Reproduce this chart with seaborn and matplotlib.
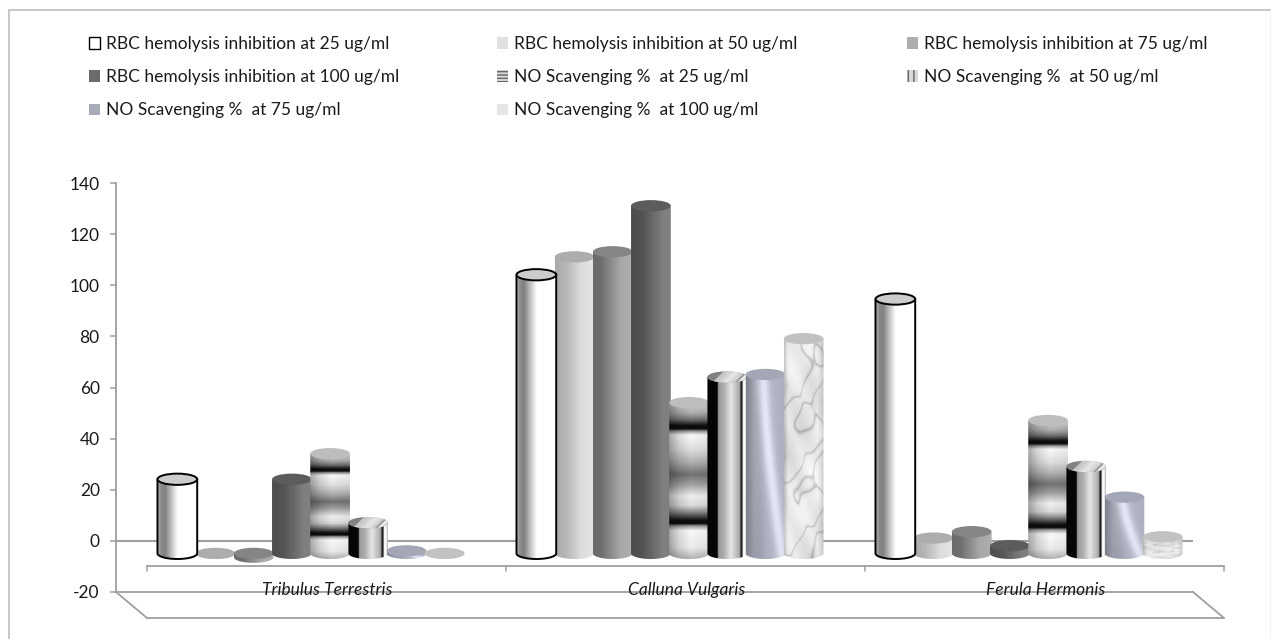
import numpy as np
import pandas as pd
import matplotlib
matplotlib.use("Agg")
import matplotlib.pyplot as plt
import matplotlib.transforms as mtransforms
from matplotlib.patches import Ellipse, PathPatch, Patch
from matplotlib.path import Path
import seaborn as sns

plants = ["Tribulus Terrestris", "Calluna Vulgaris", "Ferula Hermonis"]
series_names = [
    "RBC hemolysis inhibition at 25 ug/ml",
    "RBC hemolysis inhibition at 50 ug/ml",
    "RBC hemolysis inhibition at 75 ug/ml",
    "RBC hemolysis inhibition at 100 ug/ml",
    "NO Scavenging %  at 25 ug/ml",
    "NO Scavenging %  at 50 ug/ml",
    "NO Scavenging %  at 75 ug/ml",
    "NO Scavenging %  at 100 ug/ml",
]
rbc_25 = [29, 109, 99.5]
rbc_50 = [0, 116, 6]
rbc_75 = [-1.5, 118, 8.5]
rbc_100 = [29, 136, 3]
no_25 = [39, 59, 52]
no_50 = [12, 69, 34]
no_75 = [1, 70, 22]
no_100 = [0, 84, 6.5]
all_values = [rbc_25, rbc_50, rbc_75, rbc_100, no_25, no_50, no_75, no_100]
y_ticks = [-20, 0, 20, 40, 60, 80, 100, 120, 140]

top_colors = ["0.8", "0.68", "0.52", "0.36", "0.74", "0.7", "#a4a8b6", "0.76"]
swatches = ["white", "0.88", "0.68", "0.42", "0.85", "0.85", "#a8acb8", "0.9"]
hatches = [None, None, None, None, "-----", "|||", None, None]

FONT = "Lato"
GRAY = "0.62"
DPI = 100
W, H = 1271, 639


def gray_rgb(g):
    return np.dstack([g, g, g])


def stripes(u):
    return np.interp(u, [0, .26, .28, .42, .6, .82, .85, .89, .9, .96, 1],
                     [.02, .02, .6, .68, .9, .66, .15, .15, .97, .97, .7])


def texture(i):
    """Surface picture of the i-th series, u runs across and v down the cylinder."""
    u, v = np.meshgrid(np.linspace(0, 1, 120), np.linspace(0, 1, 400))
    if i == 0:
        return gray_rgb(np.interp(u, [0, .1, .2, .35, .52, 1], [.72, .55, .5, .74, 1, 1]))
    if i == 1:
        return gray_rgb(np.interp(u, [0, .3, .65, 1], [.66, .72, .86, .9]))
    if i == 2:
        return gray_rgb(np.interp(u, [0, .2, .7, 1], [.42, .43, .66, .68]))
    if i == 3:
        return gray_rgb(np.interp(u, [0, .3, .8, 1], [.3, .33, .5, .5]))
    if i == 4:
        band = np.interp(v, [0, .07, .11, .15, .17, .185, .21, .3, .38, .46, .52, .6, .66, .7, .755, .775, .79, .82, .93, 1],
                         [.85, .68, .45, .05, .05, .6, .98, .88, .7, .45, .62, .94, .86, .55, .05, .05, .6, .98, .92, .7])
        return gray_rgb(band * np.interp(u, [0, .25, .55, 1], [.68, .88, 1, .94]))
    if i == 5:
        return gray_rgb(stripes(u))
    if i == 6:
        streak = np.exp(-((u - .42 - .5 * v ** 1.4) / .15) ** 2)
        lower = np.clip(1.6 * v - .7, 0, 1) * np.exp(-((u - .35) / .2) ** 2) * .5
        edge = np.interp(u, [0, .2, .5, 1], [.7, .9, 1, .97])
        g = .7 + .2 * streak - .12 * lower
        rgb = np.dstack([g, g + .015, g + .07])
        return np.clip(rgb * edge[..., None], 0, 1)
    field = (np.sin(4 * u + 9 * v + 1.5 * np.sin(19 * v + 3 * u))
             + .6 * np.sin(9 * u - 7 * v + np.sin(23 * v - 6 * u)))
    vein = np.exp(-np.abs(field) / .12)
    cloud = .03 * np.sin(9 * v + 3 * u) + .025 * np.sin(23 * v - 9 * u)
    g = .92 + cloud - .24 * vein
    g = g * np.interp(u, [0, .1, .85, 1], [.8, .98, 1, .86])
    return np.clip(gray_rgb(g), 0, 1)


sns.set_style("white")
plt.rcParams["axes.unicode_minus"] = False
plt.rcParams["hatch.linewidth"] = 1.0
fig = plt.figure(figsize=(W / DPI, H / DPI), dpi=DPI)
ax = fig.add_axes([116 / W, 1 - 592 / H, (1193 - 116) / W, (592 - 183) / H])

df = pd.DataFrame({
    "plant": np.tile(plants, len(series_names)),
    "series": np.repeat(series_names, len(plants)),
    "value": np.concatenate(all_values),
})
sns.barplot(data=df, x="plant", y="value", hue="series", order=plants, hue_order=series_names,
            width=0.851, gap=0, dodge=True, legend=False, color="0.7", ax=ax, errorbar=None)
ax.set_xlim(-0.5, 2.5)
ax.set_ylim(-20, 140)


def shifted(dx, dy):
    """transData moved by dx, dy pixels, dy counted downwards as in the picture."""
    return ax.transData + mtransforms.ScaledTranslation(dx / DPI, -dy / DPI, fig.dpi_scale_trans)


# frame of the picture
for xs, ys, col in [([8.5, 8.5], [10, H], "0.72"), ([8.5, W], [10, 10], "0.72"), ([W - .5, W - .5], [10, H], "0.93")]:
    fig.add_artist(plt.Line2D(np.array(xs) / W, 1 - np.array(ys) / H, color=col, lw=1.1))

# back wall and floor
ax.set_yticks(y_ticks)
ax.set_xticks([])
ax.set_xlabel("")
ax.set_ylabel("")
for side in ["top", "right"]:
    ax.spines[side].set_visible(False)
for side in ["left", "bottom"]:
    ax.spines[side].set_color(GRAY)
    ax.spines[side].set_linewidth(1.3)
ax.tick_params(axis="y", length=4.3, width=1.1, color=GRAY, pad=7.4, left=True)
for label in ax.get_yticklabels():
    label.set_fontfamily(FONT)
    label.set_fontsize(12.5)
    label.set_color("0.1")
ax.axhline(0, color=GRAY, lw=1.5, zorder=0.5)

corners_x = [-0.5, 2.5]
ax.plot(corners_x, [-20, -20], color=GRAY, lw=1.3, transform=shifted(31, 26), clip_on=False)
left = ax.transData.transform((-0.5, -20))
right = ax.transData.transform((2.5, -20))
for start in [left, right]:
    fig.add_artist(plt.Line2D([start[0] / W, (start[0] + 31) / W],
                              [start[1] / H, (start[1] - 26) / H], color=GRAY, lw=1.3))

# category axis in front of the bars
ax.plot(corners_x, [0, 0], color=GRAY, lw=1.3, transform=shifted(31, 25), clip_on=False, zorder=1)
for x in [-0.5, 0.5, 1.5, 2.5]:
    ax.plot([x, x], [0, -2], color=GRAY, lw=1.1, transform=shifted(31, 25), clip_on=False, zorder=1)
for x, name in enumerate(plants):
    ax.text(x, 0, name, transform=shifted(32, 49), ha="center", va="center", style="italic",
            family=FONT, fontsize=12.5, color="0.1", clip_on=False, zorder=6)

# cylinders, painted over the bars seaborn placed
bar_trans = shifted(15.5, 12.5)
cap = 4.4
for i, container in enumerate(ax.containers):
    z = 10 if i == 0 else 3 + i * 0.1
    pic = texture(i)
    for bar in container:
        x0 = bar.get_x() - bar.get_width() * 0.02
        x1 = bar.get_x() + bar.get_width() * 1.02
        y_val = bar.get_y() + bar.get_height()
        top = max(y_val, 0)
        base = min(y_val, 0)
        bar.set_transform(bar_trans)
        bar.set_zorder(z - 0.05)
        bar.set_edgecolor("none")
        bar.set_alpha(0)

        t = np.linspace(0, np.pi, 40)
        xs = (x0 + x1) / 2 + (x1 - x0) / 2 * np.cos(t)
        ys = base - cap / 2 * np.sin(t)
        verts = np.column_stack([np.r_[x0, x1, xs, x0], np.r_[top, top, ys, top]])
        body = PathPatch(Path(verts, closed=False), transform=bar_trans, zorder=z + 0.01,
                         facecolor="none", clip_on=False,
                         edgecolor="black" if i == 0 else "none", lw=1.4 if i == 0 else 0)
        ax.add_patch(body)
        im = ax.imshow(pic, extent=[x0, x1, base - cap / 2, top], aspect="auto", zorder=z,
                       interpolation="bilinear", transform=bar_trans, origin="upper")
        im.set_clip_path(body)

        lid = Ellipse(((x0 + x1) / 2, top), x1 - x0, cap, transform=bar_trans, zorder=z + 0.03,
                      facecolor=top_colors[i], clip_on=False,
                      edgecolor="black" if i == 0 else "none", lw=1.4 if i == 0 else 0)
        ax.add_patch(lid)
        if i == 5:
            lu, lv = np.meshgrid(np.linspace(0, 1, 120), np.linspace(0, 1, 30))
            lid_pic = gray_rgb(.5 + .45 * stripes(lu + .3 * (lv - .5)))
            lid_im = ax.imshow(lid_pic, extent=[x0, x1, top - cap / 2, top + cap / 2], aspect="auto",
                               zorder=z + 0.04, transform=bar_trans, interpolation="bilinear")
            lid_im.set_clip_path(lid)
ax.set_xlim(-0.5, 2.5)
ax.set_ylim(-20, 140)

# legend, three columns filled row by row
handles = [Patch(facecolor=swatches[i], edgecolor="black" if i == 0 else "0.4" if hatches[i] else "none",
                 hatch=hatches[i], lw=1.0 if i == 0 else 0) for i in range(8)]
column_x = [89, 497, 907]
for c, cx in enumerate(column_x):
    idx = list(range(c, 8, 3))
    fig.legend([handles[i] for i in idx], [series_names[i] for i in idx], loc="upper left",
               bbox_to_anchor=(cx / W, 1 - 36 / H), frameon=False, borderpad=0, borderaxespad=0,
               handlelength=0.62, handleheight=0.62, handletextpad=0.36, labelspacing=0.99,
               prop={"family": FONT, "size": 12.5}, labelcolor="0.1")

fig.savefig("out.png", dpi=DPI, facecolor="white")
